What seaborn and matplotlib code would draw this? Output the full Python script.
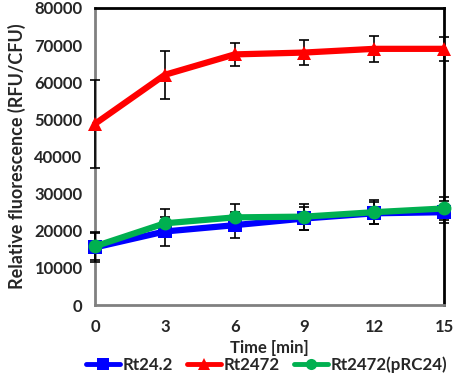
import numpy as np
import pandas as pd
import matplotlib
matplotlib.use("Agg")
import matplotlib.pyplot as plt
import seaborn as sns
from matplotlib.lines import Line2D

time_min = [0, 3, 6, 9, 12, 15]
series_names = ["Rt24.2", "Rt2472", "Rt2472(pRC24)"]
rt242 = [15500, 19800, 21500, 23300, 24700, 25000]
rt242_err = [4000, 4000, 3500, 3000, 3000, 3000]
rt2472 = [48800, 62000, 67500, 68000, 69000, 69000]
rt2472_err = [11800, 6500, 3000, 3300, 3500, 3200]
prc24 = [15800, 22000, 23600, 23800, 25000, 26000]
prc24_err = [3800, 3800, 3500, 3500, 3200, 3000]
y_ticks = [0, 10000, 20000, 30000, 40000, 50000, 60000, 70000, 80000]

sns.set_style("white")
plt.rcParams['font.family'] = ['Lato', 'DejaVu Sans']

rows = []
for name, vals, errs in [(series_names[0], rt242, rt242_err),
                         (series_names[1], rt2472, rt2472_err),
                         (series_names[2], prc24, prc24_err)]:
    for t, v, e in zip(time_min, vals, errs):
        rows.append({"time": t, "value": v, "err": e, "series": name})
df = pd.DataFrame(rows)

fig = plt.figure(figsize=(4.54, 3.79), dpi=100)
ax = fig.add_axes([95/454, 1-305/379, (444-95)/454, (305-8)/379])

palette = {"Rt24.2": "#0000FF", "Rt2472": "#FF0000", "Rt2472(pRC24)": "#00B050"}
markers = {"Rt24.2": "s", "Rt2472": "^", "Rt2472(pRC24)": "o"}

for name in series_names:
    sub = df[df.series == name]
    eb = ax.errorbar(sub.time, sub.value, yerr=sub.err, fmt='none', ecolor='black',
                     elinewidth=1.2, capsize=3.5, capthick=1.2, zorder=2.8)
    for art in eb.get_children():
        art.set_clip_on(False)

sns.lineplot(data=df, x="time", y="value", hue="series", style="series",
             palette=palette, markers=markers, dashes=False, markersize=10,
             linewidth=4.5, markeredgewidth=0, ax=ax, legend=False, zorder=3,
             solid_capstyle='round', clip_on=False)

ax.set_xlim(0, 15)
ax.set_ylim(0, 80000)
ax.set_xticks(time_min)
ax.set_yticks(y_ticks)
ax.set_xticklabels([str(t) for t in time_min], fontsize=12, fontweight='bold')
ax.set_yticklabels([str(t) for t in y_ticks], fontsize=12, fontweight='bold')
ax.tick_params(axis='y', direction='out', length=5, width=1.2, color='#808080', pad=4)
ax.tick_params(axis='x', direction='in', length=5, width=1.2, color='#808080', pad=10)
for s in ['top', 'right']:
    ax.spines[s].set_color('black')
    ax.spines[s].set_linewidth(2)
for s in ['left', 'bottom']:
    ax.spines[s].set_color('#808080')
    ax.spines[s].set_linewidth(2)
ax.set_xlabel("Time [min]", fontsize=12, fontweight='bold', labelpad=4)
ax.set_ylabel("Relative fluorescence (RFU/CFU)", fontsize=13, fontweight='bold', labelpad=6)

handles = [Line2D([0], [0], color=palette[n], marker=markers[n], markersize=8,
                  linewidth=3.5, markeredgewidth=0, solid_capstyle='round') for n in series_names]
fig.legend(handles, series_names, loc='center left', bbox_to_anchor=(86/454, 1-365/379), ncol=3,
           frameon=False, prop={'weight': 'bold', 'size': 12.2}, handlelength=2.0,
           columnspacing=0.85, handletextpad=0.15, borderpad=0, borderaxespad=0)

fig.savefig("out.png", dpi=100)
